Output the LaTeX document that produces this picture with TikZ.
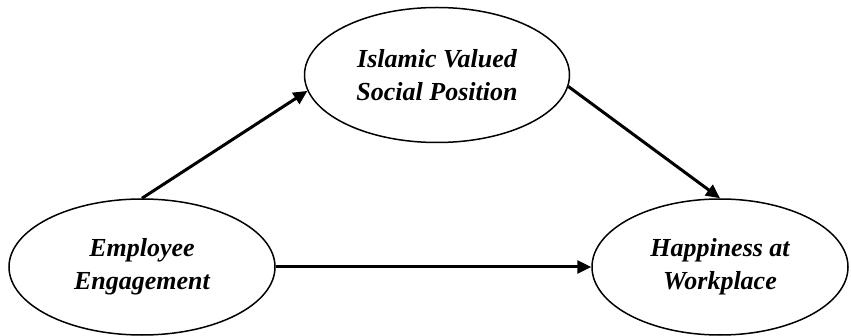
\documentclass[tikz,border=0pt]{standalone}
\usepackage{fontspec}
\setmainfont{Liberation Serif}
\usetikzlibrary{positioning,arrows.meta,shapes.geometric}

\begin{document}
\begin{tikzpicture}[
      x=0.5pt, y=-0.5pt,
      font=\fontsize{13}{16.5}\selectfont\bfseries\itshape,
      construct/.style={draw, ellipse, line width=0.75pt, inner sep=0pt, align=center},
      path/.style={-{Triangle[length=7pt, width=6.5pt]}, line width=1.5pt},
    ]
    \useasboundingbox (0,0) rectangle (851,336);
    % the three constructs
    \node[construct, minimum width=133pt, minimum height=68pt] (engage) at (142,267)
      {Employee\\Engagement};
    \node[construct, minimum width=132.5pt, minimum height=67.5pt] (islamic) at (437,75)
      {Islamic Valued\\Social Position};
    \node[construct, minimum width=128pt, minimum height=68pt] (happy) at (720,267)
      {Happiness at\\Workplace};
    % paths
    \draw[path] (engage.north) -- (islamic.187);
    \draw[path] (islamic.-5) -- (happy.north);
    \draw[path] (engage.east) -- (happy.west);
  \end{tikzpicture}
\end{document}
